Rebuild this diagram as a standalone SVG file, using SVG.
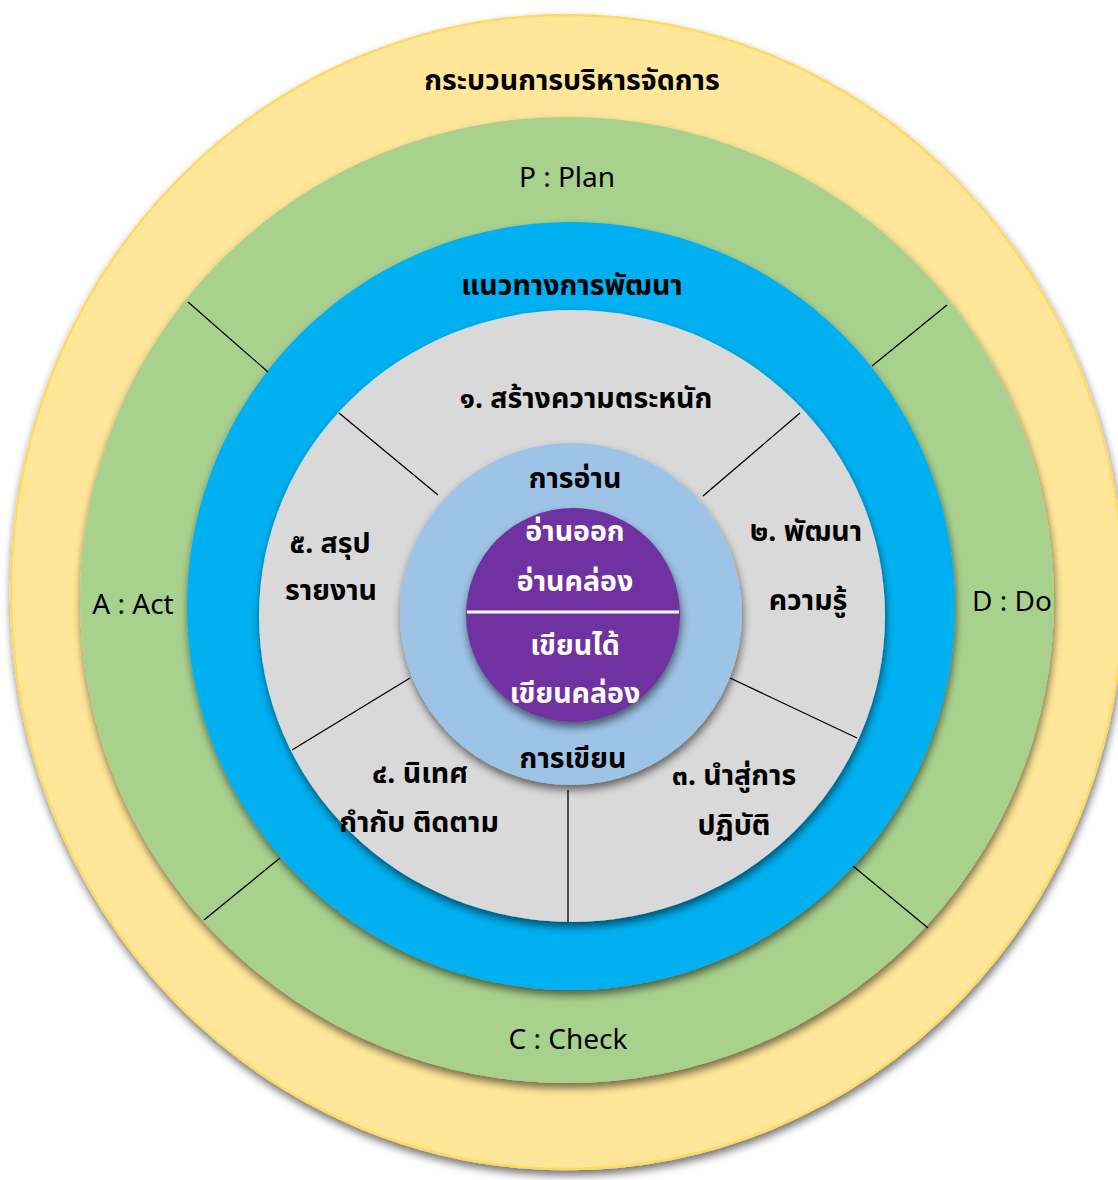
<svg xmlns="http://www.w3.org/2000/svg" width="1118" height="1180" viewBox="0 0 1118 1180">
<defs>
<filter id="sh" x="-10%" y="-10%" width="120%" height="125%">
<feGaussianBlur in="SourceAlpha" stdDeviation="4"/>
<feOffset dx="1" dy="5" result="b"/>
<feComponentTransfer><feFuncA type="linear" slope="0.55"/></feComponentTransfer>
<feMerge><feMergeNode/><feMergeNode in="SourceGraphic"/></feMerge>
</filter>
<style>
.t{font-family:"Noto Sans","Noto Sans Thai","DejaVu Sans",sans-serif;text-anchor:middle;fill:#000}
.b{font-weight:bold;font-size:28.5px}
.r{font-size:28px}
.w{fill:#fff}
.ln{stroke:#000;stroke-width:1.3;fill:none}
</style>
</defs>
<rect width="1118" height="1180" fill="#fff"/>
<g id="ring-yellow"><ellipse cx="567" cy="592" rx="556" ry="577" fill="#FFE699" stroke="#FFD966" stroke-width="2.5" filter="url(#sh)"/></g>
<g id="ring-green"><ellipse cx="567" cy="600" rx="487" ry="483" fill="#A9D18E" filter="url(#sh)"/></g>
<g id="ring-blue"><circle cx="571" cy="606" r="384" fill="#00B0F0" filter="url(#sh)"/></g>
<g id="ring-gray"><ellipse cx="572" cy="616" rx="313" ry="306" fill="#D9D9D9" filter="url(#sh)"/></g>
<g id="ring-lightblue"><circle cx="571" cy="614" r="171" fill="#9DC3E6" filter="url(#sh)"/></g>
<g id="core"><circle cx="573" cy="615" r="107" fill="#7030A0" filter="url(#sh)"/><line x1="467" y1="612" x2="679" y2="612" stroke="#fff" stroke-width="3"/></g>
<g id="connectors">
<line class="ln" x1="188" y1="302" x2="268" y2="372"/>
<line class="ln" x1="947" y1="305" x2="872" y2="366"/>
<line class="ln" x1="204" y1="920" x2="280" y2="858"/>
<line class="ln" x1="928" y1="928" x2="853" y2="866"/>
<line class="ln" x1="339" y1="413" x2="438" y2="495"/>
<line class="ln" x1="800" y1="413" x2="703" y2="496"/>
<line class="ln" x1="292" y1="750" x2="410" y2="678"/>
<line class="ln" x1="857" y1="738" x2="730" y2="678"/>
<line class="ln" x1="568" y1="790" x2="568" y2="922"/>
</g>
<g id="labels">
<text class="t b" x="572" y="90">กระบวนการบริหารจัดการ</text>
<text class="t r" x="567" y="187">P : Plan</text>
<text class="t b" x="572" y="295">แนวทางการพัฒนา</text>
<text class="t b" x="586" y="408">๑. สร้างความตระหนัก</text>
<text class="t b" x="575" y="488">การอ่าน</text>
<text class="t b w" x="575" y="541">อ่านออก</text>
<text class="t b w" x="575" y="591">อ่านคล่อง</text>
<text class="t b w" x="575" y="655">เขียนได้</text>
<text class="t b w" x="575" y="703">เขียนคล่อง</text>
<text class="t b" x="573" y="768">การเขียน</text>
<text class="t b" x="806" y="541">๒. พัฒนา</text>
<text class="t b" x="808" y="610">ความรู้</text>
<text class="t b" x="734" y="785">๓. นำสู่การ</text>
<text class="t b" x="734" y="835">ปฏิบัติ</text>
<text class="t b" x="420" y="783">๔. นิเทศ</text>
<text class="t b" x="419" y="832">กำกับ ติดตาม</text>
<text class="t b" x="330" y="553">๕. สรุป</text>
<text class="t b" x="331" y="600">รายงาน</text>
<text class="t r" x="133" y="614">A : Act</text>
<text class="t r" x="1012" y="611">D : Do</text>
<text class="t r" x="568" y="1049">C : Check</text>
</g>
</svg>
